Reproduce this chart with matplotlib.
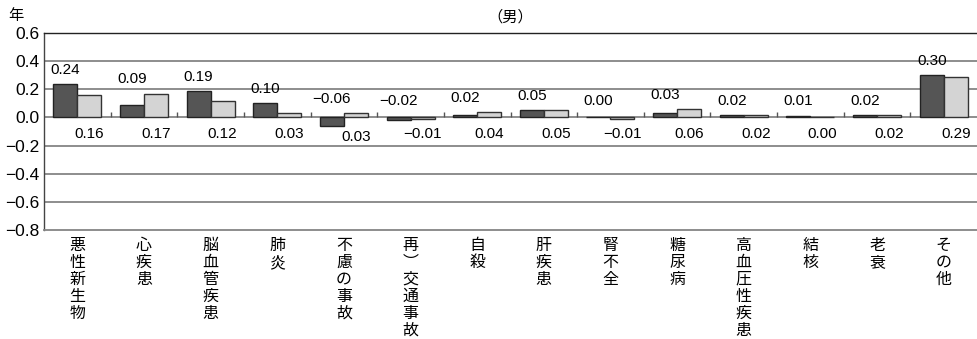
import numpy as np
import matplotlib
matplotlib.use("Agg")
import matplotlib.pyplot as plt
import matplotlib.transforms as mtransforms

# --- DATA ---
categories = ["悪性新生物", "心疾患", "脳血管疾患", "肺炎", "不慮の事故", "再︶交通事故",
              "自殺", "肝疾患", "腎不全", "糖尿病", "高血圧性疾患", "結核", "老衰", "その他"]
dark_vals = [0.24, 0.09, 0.19, 0.10, -0.06, -0.02, 0.02, 0.05, 0.00, 0.03, 0.02, 0.01, 0.02, 0.30]
light_vals = [0.16, 0.17, 0.12, 0.03, 0.03, -0.01, 0.04, 0.05, -0.01, 0.06, 0.02, 0.00, 0.02, 0.29]
y_ticks = [0.6, 0.4, 0.2, 0.0, -0.2, -0.4, -0.6, -0.8]

NUM_FONT = ["Liberation Sans", "DejaVu Sans"]
JP_FONT = ["Noto Sans CJK JP", "DejaVu Sans"]
plt.rcParams["font.family"] = NUM_FONT

# --- PLOT ---
fig = plt.figure(figsize=(9.78, 3.39), dpi=100)
ax = fig.add_axes([0.045, 0.3215, 0.954, 0.5812])

x = np.arange(len(categories))
w = 0.36
ax.bar(x - w / 2, dark_vals, w, color="#555555", edgecolor="#222222", linewidth=1.0, zorder=3)
ax.bar(x + w / 2, light_vals, w, color="#d4d4d4", edgecolor="#333333", linewidth=1.0, zorder=3)

ax.set_xlim(-0.5, len(categories) - 0.5)
ax.set_ylim(-0.8, 0.6)
ax.set_yticks(y_ticks)
ax.set_yticklabels([f"{v:.1f}".replace("-", "\u2212") for v in y_ticks], fontsize=12.5)
ax.tick_params(axis="y", length=0, pad=3)
ax.set_xticks([])

# horizontal grid lines
for v in y_ticks[1:-1]:
    ax.axhline(v, color="#858585", linewidth=1.3, zorder=1)
ax.spines["top"].set_color("#222222")
ax.spines["top"].set_linewidth(1.0)
ax.spines["bottom"].set_color("#858585")
ax.spines["bottom"].set_linewidth(1.3)
ax.spines["left"].set_color("#444444")
ax.spines["left"].set_linewidth(1.0)
ax.spines["right"].set_visible(False)

# small tick marks on the zero line between groups
ax.vlines(x[1:] - 0.5, 0, 0.035, color="#555555", linewidth=1.0, zorder=2)

def fmt(v):
    return f"{v:.2f}".replace("-", "\u2212")

for i, (d, l) in enumerate(zip(dark_vals, light_vals)):
    top = max(d, l, 0)
    ax.text(i - w / 2, max(top + 0.1, 0.12), fmt(d), ha="center", va="center",
            fontsize=11, zorder=4)
    low = min(d, l)
    ax.text(i + w / 2, min(-0.115, low - 0.08), fmt(l), ha="center", va="center",
            fontsize=11, zorder=4)

# vertical category labels
trans = mtransforms.blended_transform_factory(ax.transData, ax.transAxes)
for i, name in enumerate(categories):
    ax.text(i, -0.035, "\n".join(name), transform=trans, ha="center", va="top",
            fontsize=11.5, linespacing=1.0, family=JP_FONT)

ax.set_title("（男）", family=JP_FONT, fontsize=11, pad=8)
fig.text(0.008, 0.955, "年", family=JP_FONT, fontsize=11, va="center")

fig.savefig("out.png", dpi=100)
